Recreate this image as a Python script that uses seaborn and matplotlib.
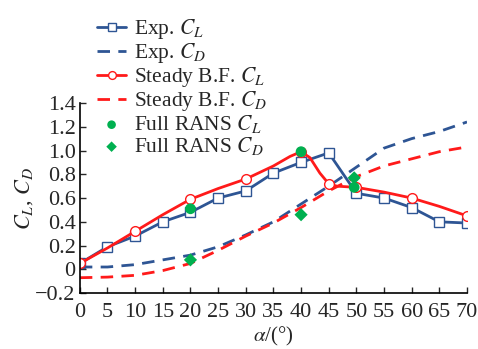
import matplotlib
matplotlib.use("Agg")
import matplotlib.pyplot as plt
import seaborn as sns

# angle of attack (deg)
alpha_exp = [0, 5, 10, 15, 20, 25, 30, 35, 40, 45, 50, 55, 60, 65, 70]
exp_cl = [0.05, 0.19, 0.28, 0.40, 0.48, 0.60, 0.66, 0.81, 0.90, 0.98, 0.64, 0.60, 0.52, 0.40, 0.39]
exp_cd = [0.02, 0.02, 0.04, 0.08, 0.12, 0.19, 0.29, 0.40, 0.55, 0.70, 0.86, 1.02, 1.10, 1.16, 1.24]

alpha_bf = [0, 5, 10, 15, 20, 25, 30, 35, 38, 40, 41.6, 43.4, 45, 46.5, 50, 55, 60, 65, 70]
bf_cl = [0.05, 0.18, 0.32, 0.46, 0.59, 0.68, 0.76, 0.87, 0.95, 0.99, 0.94, 0.81, 0.72, 0.70, 0.69, 0.65, 0.60, 0.53, 0.45]
bf_marks = [0, 2, 4, 6, 9, 12, 14, 16, 18]

alpha_bf_cd = [0, 5, 10, 15, 20, 25, 30, 35, 40, 45, 50, 55, 60, 65, 70]
bf_cd = [-0.07, -0.065, -0.05, -0.01, 0.05, 0.16, 0.28, 0.39, 0.52, 0.66, 0.78, 0.87, 0.93, 0.99, 1.03]

alpha_rans = [20, 40, 49.6]
rans_cl = [0.51, 0.99, 0.69]
rans_cd = [0.08, 0.46, 0.77]

blue = "#2E5594"
red = "#FF1A1A"
green = "#00B050"

sns.set_style("ticks")
plt.rcParams["font.family"] = ["Liberation Serif", "DejaVu Serif"]
plt.rcParams["mathtext.fontset"] = "stix"
plt.rcParams["xtick.direction"] = "in"
plt.rcParams["ytick.direction"] = "in"

fig = plt.figure(figsize=(4.78, 3.49), dpi=100)
ax = fig.add_axes([0.167, 0.160, 0.810, 0.545])

dash = (0, (4.5, 3))
sns.lineplot(x=alpha_exp, y=exp_cl, ax=ax, color=blue, lw=2, marker="s", ms=7,
             mfc="white", mec=blue, mew=1.0, label="Exp. $C_L$")
sns.lineplot(x=alpha_exp, y=exp_cd, ax=ax, color=blue, lw=2, ls=dash,
             label="Exp. $C_D$")
sns.lineplot(x=alpha_bf, y=bf_cl, ax=ax, color=red, lw=2, marker="o", ms=7,
             mfc="white", mec=red, mew=1.0, markevery=bf_marks, label="Steady B.F. $C_L$")
sns.lineplot(x=alpha_bf_cd, y=bf_cd, ax=ax, color=red, lw=2, ls=dash,
             label="Steady B.F. $C_D$")
sns.scatterplot(x=alpha_rans, y=rans_cl, ax=ax, color=green, marker="o", s=60,
                edgecolor="none", label="Full RANS $C_L$", zorder=5)
sns.scatterplot(x=alpha_rans, y=rans_cd, ax=ax, color=green, marker="D", s=45,
                edgecolor="none", label="Full RANS $C_D$", zorder=5)

ax.set_xlim(0, 70)
ax.set_ylim(-0.2, 1.4)
ax.set_xticks(range(0, 71, 5))
ax.set_yticks([-0.2, 0, 0.2, 0.4, 0.6, 0.8, 1.0, 1.2, 1.4])
ax.set_yticklabels(["\u22120.2", "0", "0.2", "0.4", "0.6", "0.8", "1.0", "1.2", "1.4"])
ax.tick_params(length=4, width=1, labelsize=16)
ax.tick_params(axis="x", pad=7)
ax.tick_params(axis="y", pad=3)
sns.despine(ax=ax)
for s in ["left", "bottom"]:
    ax.spines[s].set_linewidth(1.2)
    ax.spines[s].set_color("black")

ax.set_xlabel(r"$\alpha$/(°)", fontsize=15, labelpad=2)
ax.set_ylabel(r"$C_L$, $C_D$", fontsize=16, labelpad=0)

handles, labels = ax.get_legend_handles_labels()
ax.get_legend().remove()
fig.legend(handles, labels, loc="upper left", bbox_to_anchor=(0.185, 0.975),
           frameon=False, handlelength=1.35, labelspacing=0.0, handletextpad=0.35,
           borderaxespad=0, fontsize=15.5, markerscale=0.8)

fig.savefig("out.png", dpi=100)
